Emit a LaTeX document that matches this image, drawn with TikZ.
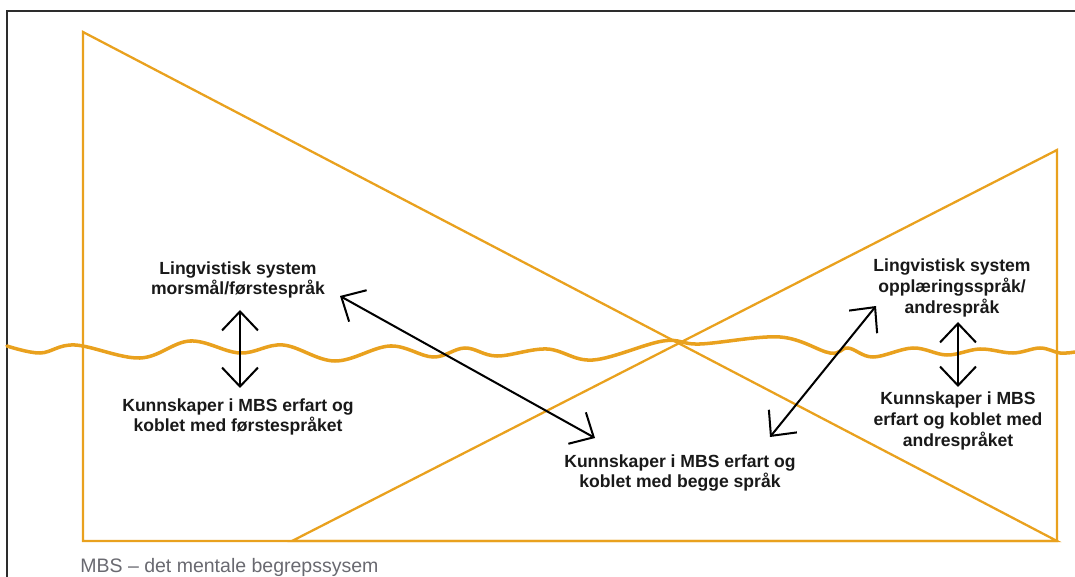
\documentclass[tikz,border=0pt]{standalone}
\usepackage{fontspec}
\setmainfont{Liberation Sans}
\usetikzlibrary{arrows.meta}

\definecolor{oker}{RGB}{233,161,30}
\definecolor{ramme}{RGB}{45,45,45}
\definecolor{graatekst}{RGB}{105,105,112}

\tikzset{
  tekst/.style={align=center, font=\fontsize{10}{11.9}\selectfont\bfseries, text=black!90, inner sep=0pt},
  bildetekst/.style={font=\fontsize{11.1}{13}\selectfont, text=graatekst, inner sep=0pt},
  pil/.style={{Straight Barb[length=0.38cm,width=0.72cm]}-{Straight Barb[length=0.38cm,width=0.72cm]}, line width=1.15pt},
  trekant/.style={draw=oker, line width=1.3pt, line join=miter},
}

\begin{document}
\begin{tikzpicture}[x=0.02cm, y=-0.02cm]
\useasboundingbox (0,0) rectangle (1075,577);
\def\venstre{(83,32) -- (83,541) -- (1057,541) -- cycle}
\def\hoyre{(292,541) -- (1057,541) -- (1057,150) -- cycle}

% ramme
\draw[ramme, line width=1.4pt] (7,577) -- (7,11) -- (1075,11);

\draw[trekant] \venstre;
\draw[trekant] \hoyre;

% vannlinja
\draw[oker, line width=2pt, line cap=round] plot[smooth, tension=0.6] coordinates {
  (7,346) (40,353) (75,345) (140,358) (190,341) (240,353) (283,345) (335,361)
  (390,346) (433,357) (465,348) (497,356) (547,349) (593,360) (663,341) (700,344)
  (780,337) (830,353) (848,348) (873,357) (913,348) (947,355) (980,349) (1013,353)
  (1040,348) (1060,353) (1075,352)};

\node[tekst] (ls1) at (238,280) {Lingvistisk system\\morsmål/førstespråk};
\node[tekst] (kf1) at (238,417) {Kunnskaper i MBS erfart og\\koblet med førstespråket};
\node[tekst] (kb) at (680,473) {Kunnskaper i MBS erfart og\\koblet med begge språk};
\node[tekst] (ls2) at (952,288) {Lingvistisk system\\opplæringsspråk/\\andrespråk};
\node[tekst] (kf2) at (958,421) {Kunnskaper i MBS\\erfart og koblet med\\andrespråket};
\node[bildetekst, anchor=base west] (mbs) at (80,572) {MBS – det mentale begrepssysem};

\coordinate (a1) at (240,310);
\coordinate (b1) at (240,388);
\coordinate (a2) at (340,296);
\coordinate (b2) at (595,438);
\coordinate (a3) at (770,437);
\coordinate (b3) at (876,306);
\coordinate (a4) at (958,322);
\coordinate (b4) at (958,387);

\draw[pil] (a1) -- (b1);
\draw[pil] (a2) -- (b2);
\draw[pil] (a3) -- (b3);
\draw[pil] (a4) -- (b4);
\end{tikzpicture}
\end{document}
